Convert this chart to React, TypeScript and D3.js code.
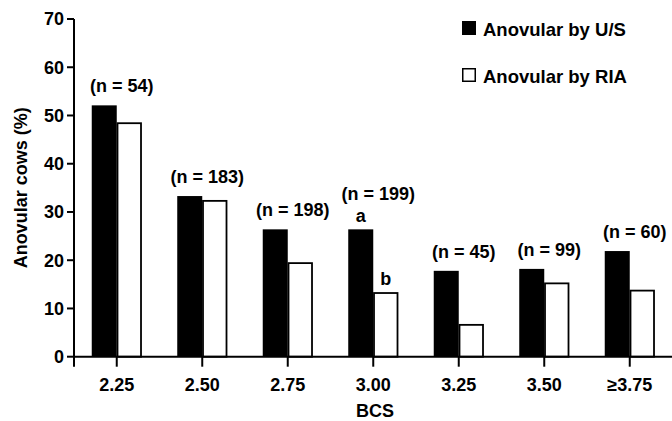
import React from "react";
import * as d3 from "d3";

const categories = ["2.25", "2.50", "2.75", "3.00", "3.25", "3.50", "≥3.75"];
const anovularUS = [52.1, 33.3, 26.4, 26.4, 17.8, 18.2, 21.9];
const anovularRIA = [48.4, 32.3, 19.4, 13.2, 6.6, 15.2, 13.7];
const nLabels = ["(n = 54)", "(n = 183)", "(n = 198)", "(n = 199)", "(n = 45)", "(n = 99)", "(n = 60)"];
const sigUS = ["", "", "", "a", "", "", ""];
const sigRIA = ["", "", "", "b", "", "", ""];
const yTicks = [0, 10, 20, 30, 40, 50, 60, 70];
const seriesNames = ["Anovular by U/S", "Anovular by RIA"];

const W = 672;
const H = 421;
const FONT = "'Liberation Sans', Arial, Helvetica, sans-serif";

export default function App() {
  const x = d3.scaleBand<string>().domain(categories).range([74, 672.5]).paddingInner(0.415).paddingOuter(0.2075);
  const xs = d3.scaleBand<string>().domain(["us", "ria"]).range([0, x.bandwidth()]).padding(0);
  const y = d3.scaleLinear().domain([0, 70]).range([356.7, 19]);
  const y0 = y(0);

  return (
    <svg width={W} height={H} style={{ position: "absolute", left: 0, top: 0, background: "#fff" }} fontFamily={FONT} fontWeight="bold">
      {/* bars */}
      {categories.map((c, i) => {
        const bx = x(c)!;
        const us = anovularUS[i];
        const ria = anovularRIA[i];
        const hasSig = sigUS[i] !== "" || sigRIA[i] !== "";
        const top = y(Math.max(us, ria));
        return (
          <g key={c}>
            <rect x={bx + xs("us")!} y={y(us)} width={xs.bandwidth()} height={y0 - y(us)} fill="#000" />
            <rect x={bx + xs("ria")! + 0.75} y={y(ria)} width={xs.bandwidth() - 1.5} height={y0 - y(ria)} fill="#fff" stroke="#000" strokeWidth={1.8} />
            {sigUS[i] && (
              <text x={bx + xs("us")! + xs.bandwidth() / 2} y={y(us) - 7} textAnchor="middle" fontSize={18}>{sigUS[i]}</text>
            )}
            {sigRIA[i] && (
              <text x={bx + xs("ria")! + xs.bandwidth() / 2} y={y(ria) - 8} textAnchor="middle" fontSize={18}>{sigRIA[i]}</text>
            )}
            <text x={bx + x.bandwidth() / 2 + 5} y={top - 13 - (hasSig ? 16 : 0)} textAnchor="middle" fontSize={18}>{nLabels[i]}</text>
          </g>
        );
      })}

      {/* y axis */}
      <line x1={74} x2={74} y1={y(70)} y2={y0 + 10} stroke="#000" strokeWidth={2} />
      {yTicks.map((t) => (
        <g key={t}>
          <line x1={67} x2={74} y1={y(t)} y2={y(t)} stroke="#000" strokeWidth={2} />
          <text x={64} y={y(t)} dy="0.36em" textAnchor="end" fontSize={18}>{t}</text>
        </g>
      ))}

      {/* x axis */}
      <line x1={74} x2={672} y1={y0} y2={y0} stroke="#000" strokeWidth={2} />
      {categories.map((c) => {
        const cx = x(c)! + x.bandwidth() / 2;
        return (
          <g key={c}>
            <line x1={cx} x2={cx} y1={y0} y2={y0 + 10} stroke="#000" strokeWidth={2} />
            <text x={cx} y={391} textAnchor="middle" fontSize={18}>{c}</text>
          </g>
        );
      })}

      {/* axis titles */}
      <text x={375} y={417} textAnchor="middle" fontSize={18}>BCS</text>
      <text transform={`translate(27,${(y(70) + y0) / 2}) rotate(-90)`} textAnchor="middle" fontSize={18}>Anovular cows (%)</text>

      {/* legend */}
      <rect x={462} y={21} width={14} height={14} fill="#000" />
      <text x={483} y={36} fontSize={18.5}>{seriesNames[0]}</text>
      <rect x={462.75} y={68.75} width={12.5} height={12.5} fill="#fff" stroke="#000" strokeWidth={1.5} />
      <text x={483} y={83} fontSize={18.5}>{seriesNames[1]}</text>
    </svg>
  );
}
